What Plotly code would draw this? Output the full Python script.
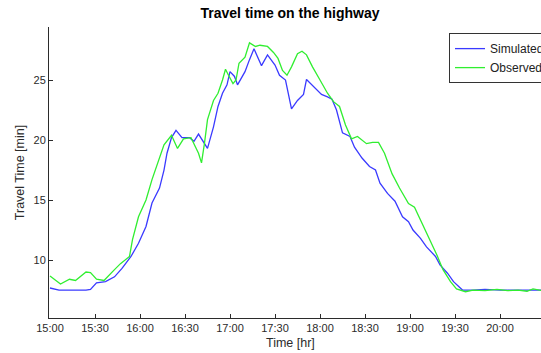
import pandas as pd
import plotly.graph_objects as go

# Simulated travel time (minutes) by clock time
sim_time = ["15:00", "15:02", "15:06", "15:24", "15:27", "15:31", "15:37", "15:43", "15:48", "15:54",
            "15:59", "16:04", "16:08", "16:13", "16:16", "16:18", "16:21", "16:24", "16:28", "16:33",
            "16:36", "16:39", "16:45", "16:49", "16:52", "16:55", "16:58", "17:00", "17:03", "17:05",
            "17:10", "17:13", "17:16", "17:21", "17:25", "17:30", "17:33", "17:37", "17:41", "17:45",
            "17:49", "17:51", "17:57", "18:01", "18:05", "18:08", "18:11", "18:15", "18:20", "18:23",
            "18:28", "18:33", "18:37", "18:40", "18:45", "18:50", "18:55", "18:59", "19:02", "19:07",
            "19:11", "19:17", "19:20", "19:25", "19:29", "19:35", "19:42", "19:50", "20:00", "20:10",
            "20:20", "20:28"]
sim_value = [7.67, 7.6, 7.5, 7.5, 7.55, 8.1, 8.2, 8.6, 9.3, 10.3,
             11.4, 12.8, 14.75, 16.0, 17.5, 18.9, 20.2, 20.8, 20.2, 20.2,
             19.9, 20.5, 19.3, 21.1, 22.8, 23.9, 24.6, 25.7, 25.3, 24.6,
             25.7, 26.7, 27.6, 26.2, 27.1, 26.25, 25.4, 25.0, 22.6, 23.3,
             23.8, 25.05, 24.3, 23.8, 23.6, 23.4, 22.5, 20.6, 20.3, 19.4,
             18.5, 17.8, 17.5, 16.4, 15.55, 14.9, 13.6, 13.2, 12.5, 11.8,
             11.1, 10.3, 9.6, 8.9, 8.2, 7.5, 7.5, 7.55, 7.5, 7.52,
             7.5, 7.5]

# Observed travel time (minutes) by clock time
obs_time = ["15:00", "15:07", "15:13", "15:17", "15:24", "15:27", "15:31", "15:36", "15:43", "15:47",
            "15:53", "15:55", "15:59", "16:04", "16:08", "16:13", "16:16", "16:21", "16:25", "16:29",
            "16:34", "16:39", "16:41", "16:43", "16:45", "16:49", "16:52", "16:55", "16:57", "16:59",
            "17:02", "17:04", "17:06", "17:10", "17:13", "17:17", "17:20", "17:25", "17:29", "17:32",
            "17:35", "17:38", "17:41", "17:45", "17:48", "17:51", "17:55", "18:00", "18:05", "18:09",
            "18:13", "18:17", "18:21", "18:25", "18:31", "18:35", "18:39", "18:43", "18:48", "18:53",
            "18:59", "19:03", "19:08", "19:13", "19:18", "19:22", "19:27", "19:31", "19:37", "19:42",
            "19:50", "19:58", "20:05", "20:12", "20:18", "20:22", "20:28"]
obs_value = [8.67, 8.0, 8.4, 8.3, 9.0, 8.95, 8.4, 8.3, 9.2, 9.7,
             10.3, 11.7, 13.6, 15.0, 16.7, 18.5, 19.6, 20.4, 19.3, 20.1,
             20.2, 18.9, 18.1, 19.75, 21.7, 23.3, 23.9, 25.0, 25.9, 25.4,
             24.7, 25.0, 26.4, 26.9, 28.1, 27.8, 27.9, 27.8, 27.3, 26.8,
             25.8, 25.4, 26.1, 27.2, 27.4, 27.1, 26.1, 25.0, 23.9, 23.2,
             22.8, 21.25, 20.1, 20.3, 19.7, 19.8, 19.8, 18.9, 17.2, 16.0,
             14.7, 14.4, 13.1, 11.7, 10.4, 9.2, 8.2, 7.6, 7.36, 7.5,
             7.45, 7.55, 7.45, 7.5, 7.4, 7.6, 7.45]

y_ticks = [10, 15, 20, 25]

DAY = "2000-01-01 "


def to_dt(times):
    return pd.to_datetime([DAY + t for t in times])


FONT = "Liberation Sans, Arial, sans-serif"
AXIS_COLOR = "#2b2b2b"

fig = go.Figure()
fig.add_trace(go.Scatter(x=to_dt(sim_time), y=sim_value, mode="lines", name="Simulated",
                         line=dict(color="#3a3aff", width=1.3)))
fig.add_trace(go.Scatter(x=to_dt(obs_time), y=obs_value, mode="lines", name="Observed",
                         line=dict(color="#30ee30", width=1.3)))

fig.update_layout(
    width=541, height=353,
    margin=dict(l=49, r=0, t=27, b=35, autoexpand=False),
    paper_bgcolor="white", plot_bgcolor="white",
    font=dict(family=FONT, size=11, color=AXIS_COLOR),
    title=dict(text="<b>Travel time on the highway</b>", x=290 / 541, xref="container",
               xanchor="center", y=1 - 13 / 353, yanchor="middle",
               font=dict(family=FONT, size=14, color="black")),
    showlegend=True,
    legend=dict(x=0.813, y=0.979, xanchor="left", yanchor="top",
                bordercolor="#333333", borderwidth=1, bgcolor="white",
                font=dict(family=FONT, size=12, color="#222222"),
                itemwidth=30, tracegroupgap=0),
)

fig.update_xaxes(
    type="date", range=[DAY + "14:59:20", DAY + "20:27:20"],
    tick0=DAY + "15:00", dtick=30 * 60 * 1000, tickformat="%H:%M",
    ticks="inside", ticklen=4, tickcolor=AXIS_COLOR, tickwidth=1,
    showline=True, linecolor=AXIS_COLOR, linewidth=1,
    showgrid=False, zeroline=False,
    tickfont=dict(family=FONT, size=11, color=AXIS_COLOR),
)
fig.update_yaxes(
    range=[5.17, 29.42], tickvals=y_ticks,
    ticks="inside", ticklen=4, tickcolor=AXIS_COLOR, tickwidth=1,
    showline=True, linecolor=AXIS_COLOR, linewidth=1,
    showgrid=False, zeroline=False,
    tickfont=dict(family=FONT, size=11, color=AXIS_COLOR),
    title=dict(text="Travel Time [min]", standoff=6,
               font=dict(family=FONT, size=12.5, color=AXIS_COLOR)),
)

fig.add_annotation(text="Time [hr]", xref="paper", yref="paper",
                   x=(290 - 49) / 492, y=-(343 - 318) / 291,
                   xanchor="center", yanchor="middle", showarrow=False,
                   font=dict(family=FONT, size=12.5, color=AXIS_COLOR))

fig.write_html("out.html")
